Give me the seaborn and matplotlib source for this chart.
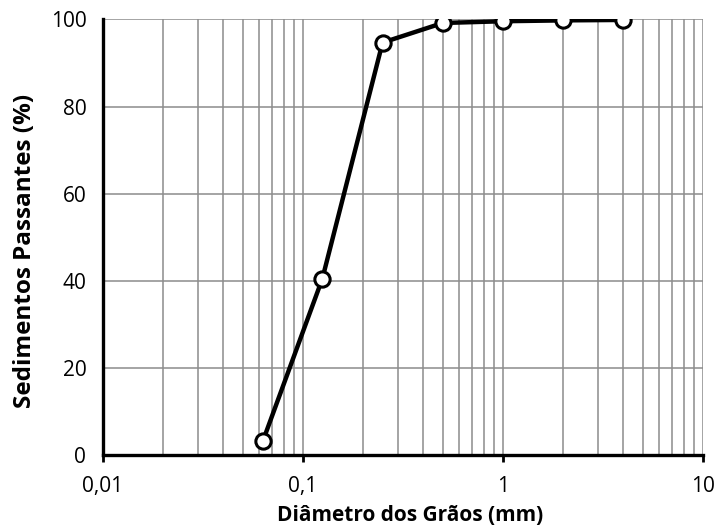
import matplotlib
matplotlib.use("Agg")
import matplotlib.pyplot as plt
import seaborn as sns
import pandas as pd
from matplotlib.ticker import LogLocator, FixedLocator, NullFormatter

diametro = [0.063, 0.125, 0.25, 0.5, 1.0, 2.0, 4.0]
passantes = [3.2, 40.5, 94.7, 99.2, 99.6, 99.8, 99.9]
xticks = [0.01, 0.1, 1, 10]
xticklabels = ["0,01", "0,1", "1", "10"]
yticks = [0, 20, 40, 60, 80, 100]

sns.set_theme(style="white")
plt.rcParams['font.family'] = ['Open Sans', 'DejaVu Sans']
plt.rcParams['text.color'] = 'black'
plt.rcParams['axes.labelcolor'] = 'black'
plt.rcParams['xtick.color'] = 'black'
plt.rcParams['ytick.color'] = 'black'

df = pd.DataFrame({"d": diametro, "p": passantes})

fig = plt.figure(figsize=(7.18, 5.27), dpi=100)
ax = fig.add_axes([0.1435, 0.1366, 0.8355, 0.8264])
ax.set_xscale("log")
sns.lineplot(data=df, x="d", y="p", ax=ax, color="black", linewidth=3.2,
             marker="o", markersize=11, markerfacecolor="white",
             markeredgecolor="black", markeredgewidth=2.2, zorder=5)
ax.set_xlim(0.01, 10)
ax.set_ylim(0, 100)
ax.xaxis.set_major_locator(FixedLocator(xticks))
ax.set_xticklabels(xticklabels)
ax.xaxis.set_minor_locator(LogLocator(base=10, subs=range(2, 10)))
ax.xaxis.set_minor_formatter(NullFormatter())
ax.set_yticks(yticks)
ax.grid(True, which="both", axis="x", color="#8c8c8c", linewidth=1.1)
ax.grid(True, which="major", axis="y", color="#8c8c8c", linewidth=1.1)
for s in ["top", "right"]:
    ax.spines[s].set_visible(False)
for s in ["left", "bottom"]:
    ax.spines[s].set_color("black")
    ax.spines[s].set_linewidth(2.4)
    ax.spines[s].set_zorder(6)
ax.tick_params(axis="x", which="major", direction="out", length=5, width=2, color="black",
               labelcolor="black", labelsize=15, pad=10, bottom=True)
ax.tick_params(axis="x", which="minor", length=0)
ax.tick_params(axis="y", length=0, labelsize=15, labelcolor="black", pad=12)
ax.set_xlabel("Diâmetro dos Grãos (mm)", fontsize=15, fontweight="bold", labelpad=6,
              color="black")
ax.set_ylabel("Sedimentos Passantes (%)", fontsize=17.5, fontweight="bold", labelpad=10,
              color="black")
ax.xaxis.label.set_x(0.512)
ax.yaxis.label.set_y(0.468)
fig.savefig("out.png", dpi=100)
